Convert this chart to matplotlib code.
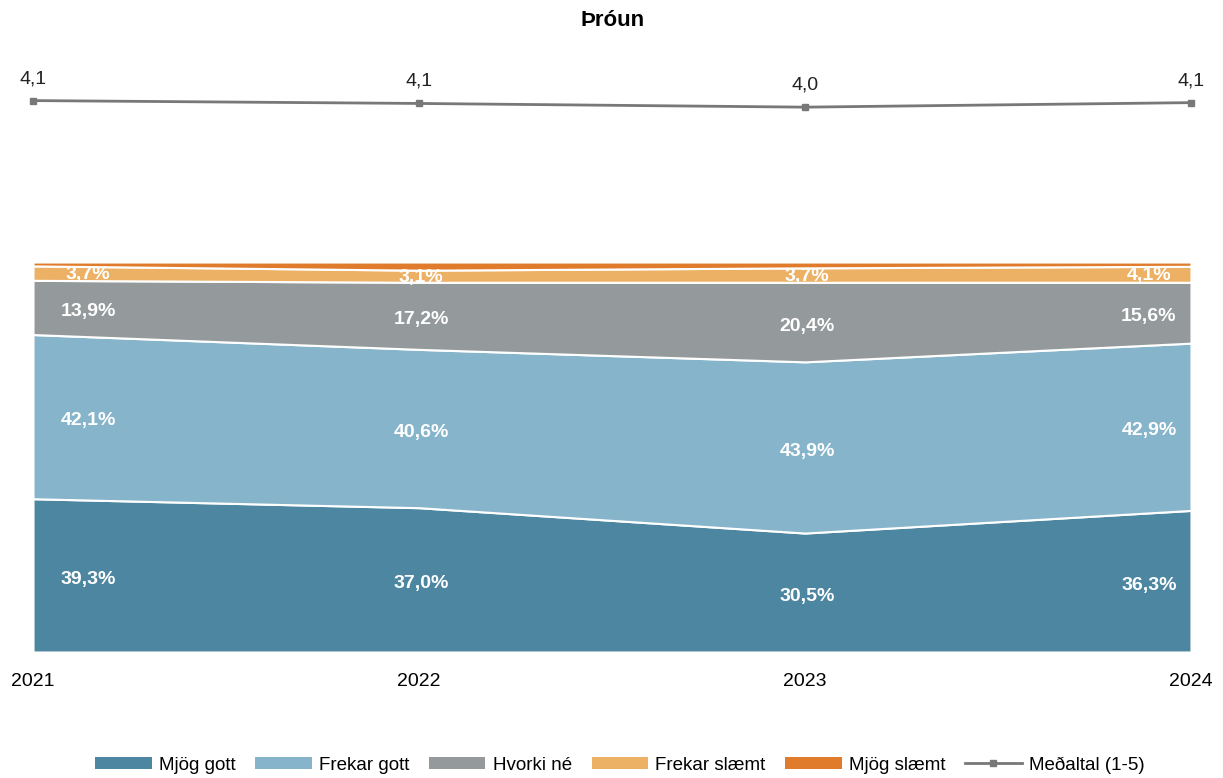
import matplotlib
matplotlib.use("Agg")
import matplotlib.pyplot as plt
from matplotlib.patches import Patch
from matplotlib.lines import Line2D

plt.rcParams['font.family'] = ['Liberation Sans', 'DejaVu Sans']

years = [2021, 2022, 2023, 2024]
categories = ["Mjög gott", "Frekar gott", "Hvorki né", "Frekar slæmt", "Mjög slæmt"]
mjog_gott = [39.3, 37.0, 30.5, 36.3]
frekar_gott = [42.1, 40.6, 43.9, 42.9]
hvorki_ne = [13.9, 17.2, 20.4, 15.6]
frekar_slaemt = [3.7, 3.1, 3.7, 4.1]
mjog_slaemt = [1.0, 2.1, 1.5, 1.1]
medaltal = [4.14, 4.07, 3.98, 4.09]
mean_label = "Meðaltal (1-5)"
title = "Þróun"

colors = ["#4d86a0", "#86b4cb", "#949a9b", "#edb166", "#e07b2b"]
series = [mjog_gott, frekar_gott, hvorki_ne, frekar_slaemt, mjog_slaemt]

fig = plt.figure(figsize=(12.23, 7.78), dpi=100)
ax = fig.add_axes([33/1223, (778-652)/778, (1191-33)/1223, 592/778])
ax.stackplot(years, *series, colors=colors, edgecolor="white", linewidth=1.5)
ax.set_xlim(2021, 2024)
ax.set_ylim(0, 151.8)
for s in ax.spines.values():
    s.set_visible(False)
ax.set_yticks([])
ax.set_xticks(years)
ax.set_xticklabels([str(y) for y in years], fontsize=14)
ax.tick_params(axis='x', length=0, pad=15)

# data labels
offsets = [55, 2, 2, -42]
for i, yr in enumerate(years):
    base = 0
    for k, s in enumerate(series[:4]):
        v = s[i]
        mid = base + v / 2
        dy = -4 if k < 3 else -1
        ax.annotate(f"{v:.1f}%".replace(".", ","), (yr, mid), xytext=(offsets[i], dy),
                    textcoords="offset pixels", ha="center", va="center",
                    color="white", fontsize=14, fontweight="bold")
        base += v

ax2 = ax.twinx()
ax2.set_ylim(-9.31, 5.13)
ax2.set_xlim(2021, 2024)
ax2.axis("off")
ax2.plot(years, medaltal, color="#787878", linewidth=2.0, marker="s", markersize=5, clip_on=False)
for yr, m in zip(years, medaltal):
    ax2.annotate(f"{m:.1f}".replace(".", ","), (yr, m), xytext=(0, 22), textcoords="offset pixels",
                 ha="center", va="center", fontsize=14, color="#222222")

fig.text(613/1223, 1 - 20/778, title, ha="center", va="center", fontsize=16, fontweight="bold")

handles = [Patch(facecolor=c, edgecolor="none") for c in colors]
handles.append(Line2D([0], [0], color="#787878", linewidth=2, marker="s", markersize=4))
labels = categories + [mean_label]
fig.legend(handles, labels, loc="center", bbox_to_anchor=(620/1223, 1 - 765/778), ncol=6,
           frameon=False, fontsize=13.5, handlelength=3, handleheight=0.6, columnspacing=1.05,
           handletextpad=0.4)

fig.savefig("out.png", dpi=100)
